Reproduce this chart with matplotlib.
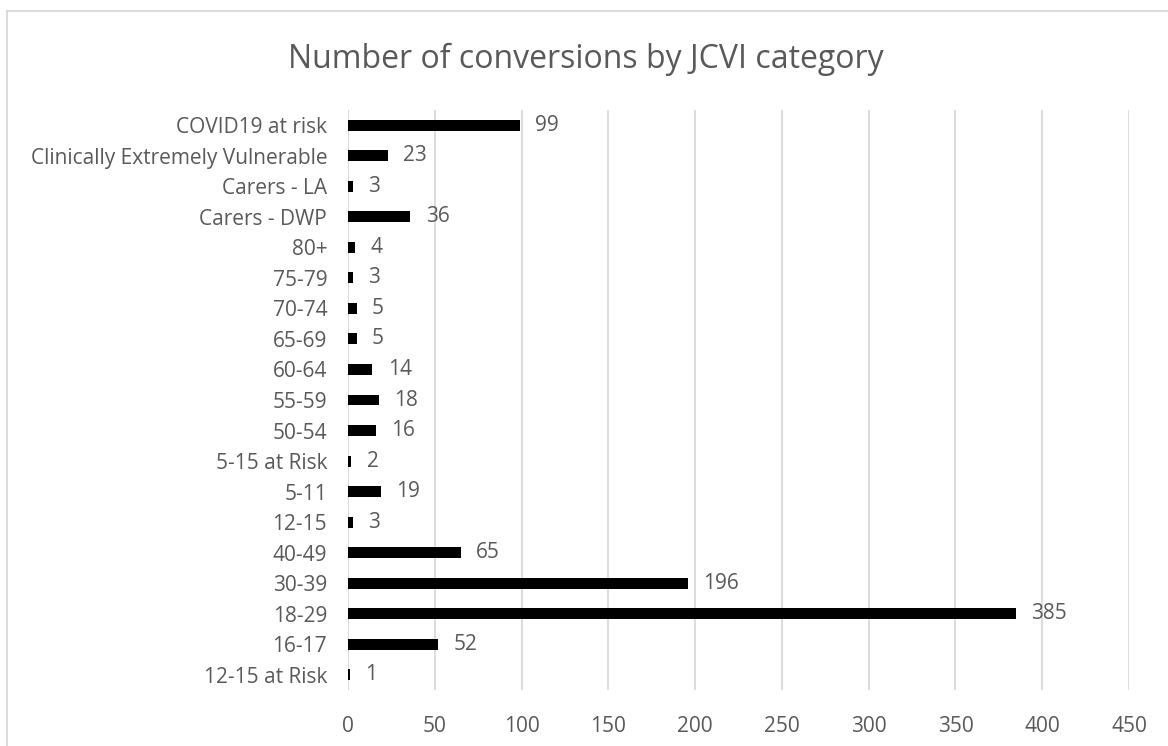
import matplotlib
matplotlib.use("Agg")
import matplotlib.pyplot as plt
from matplotlib.lines import Line2D

# conversions per JCVI cohort, top to bottom as listed on the chart
categories = [
    "COVID19 at risk", "Clinically Extremely Vulnerable", "Carers - LA",
    "Carers - DWP", "80+", "75-79", "70-74", "65-69", "60-64", "55-59",
    "50-54", "5-15 at Risk", "5-11", "12-15", "40-49", "30-39", "18-29",
    "16-17", "12-15 at Risk",
]
conversions = [99, 23, 3, 36, 4, 3, 5, 5, 14, 18, 16, 2, 19, 3, 65, 196, 385, 52, 1]
x_ticks = [0, 50, 100, 150, 200, 250, 300, 350, 400, 450]

TEXT = "#595959"
GRID = "#d9d9d9"
FS = 15
plt.rcParams["font.family"] = ["Open Sans", "DejaVu Sans"]

fig = plt.figure(figsize=(11.68, 7.46), dpi=100)
ax = fig.add_axes([348 / 1168, 1 - 690 / 746, (1129 - 348) / 1168, (690 - 110) / 746])

ypos = list(range(len(categories)))
ax.barh(ypos, conversions, height=0.36, color="black", zorder=3)
for y, v in zip(ypos, conversions):
    ax.annotate(str(v), xy=(v, y), xytext=(11, 0), textcoords="offset points",
                va="center", ha="left", fontsize=FS, color=TEXT)

ax.set_ylim(len(categories) - 0.5, -0.5)
ax.set_yticks(ypos)
ax.set_yticklabels(categories, fontsize=FS, color=TEXT)
ax.set_xlim(0, 450)
ax.set_xticks(x_ticks)
ax.set_xticklabels([str(t) for t in x_ticks], fontsize=FS, color=TEXT)
ax.tick_params(length=0)
ax.tick_params(axis="y", pad=15)
ax.tick_params(axis="x", pad=19)
ax.grid(axis="x", color=GRID, linewidth=1.3, zorder=0)
for s in ax.spines.values():
    s.set_visible(False)
ax.axvline(0, color=GRID, linewidth=1.3, zorder=1)

fig.text(0.5 * (290 + 882) / 1168, 1 - 68 / 746, "Number of conversions by JCVI category",
         ha="center", va="baseline", fontsize=23, color=TEXT)

# chart frame (left and top edges)
fig.add_artist(Line2D([6.5 / 1168, 6.5 / 1168], [0, 1 - 10.5 / 746], color=GRID, linewidth=1.3))
fig.add_artist(Line2D([6.5 / 1168, 1], [1 - 10.5 / 746, 1 - 10.5 / 746], color=GRID, linewidth=1.3))

fig.savefig("out.png", dpi=100)
